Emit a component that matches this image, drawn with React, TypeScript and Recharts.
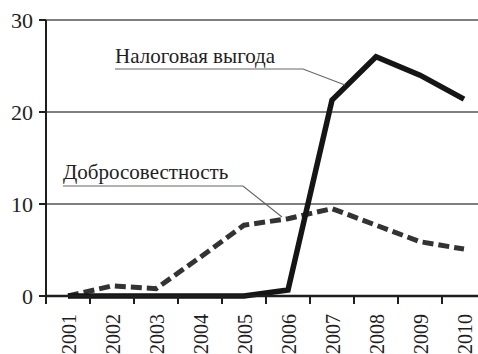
import { CartesianGrid, Line, LineChart, XAxis, YAxis } from 'recharts';

const years = ['2001', '2002', '2003', '2004', '2005', '2006', '2007', '2008', '2009', '2010'];
// Налоговая выгода
const taxBenefit = [0, 0, 0, 0, 0, 0.65, 21.3, 26.0, 24.0, 21.4];
// Добросовестность
const goodFaith = [0, 1.1, 0.8, 4.2, 7.7, 8.4, 9.5, 7.7, 5.9, 5.1];
const yTicks = [0, 10, 20, 30];

const data = years.map((year, i) => ({ year, tax: taxBenefit[i], faith: goodFaith[i] }));

const FONT = "Tinos, 'Times New Roman', Times, 'Liberation Serif', FreeSerif";
const INK = '#1e1e1e';

function YearTick(props: any) {
  const { x, y, payload } = props;
  return (
    <g>
      <line x1={x - 22} y1={y - 19} x2={x - 22} y2={y - 11} stroke={INK} strokeWidth={2} />
      <text
        x={x + 1}
        y={y - 1}
        transform={`rotate(-90, ${x + 1}, ${y - 1})`}
        textAnchor="end"
        dominantBaseline="central"
        style={{ fontFamily: FONT }}
        fontSize={20}
        fill={INK}
      >
        {payload.value}
      </text>
    </g>
  );
}

export default function App() {
  return (
    <div
      style={{
        position: 'absolute',
        left: 0,
        top: 0,
        width: 478,
        height: 354,
        overflow: 'hidden',
        background: '#fff',
      }}
    >
      <LineChart
        width={500}
        height={354}
        data={data}
        margin={{ top: 20, right: 14, bottom: 0, left: 0 }}
      >
        <CartesianGrid vertical={false} stroke="#555" strokeWidth={1.5} />
        <XAxis
          dataKey="year"
          interval={0}
          padding={{ left: 22, right: 22 }}
          height={58}
          axisLine={{ stroke: INK, strokeWidth: 2.5 }}
          tickLine={false}
          tickSize={8}
          tickMargin={11}
          tick={<YearTick />}
        />
        <YAxis
          domain={[0, 30]}
          ticks={yTicks}
          width={46}
          axisLine={{ stroke: INK, strokeWidth: 2 }}
          tickLine={{ stroke: INK, strokeWidth: 2 }}
          tickSize={7}
          tickMargin={6}
          tick={{ style: { fontFamily: FONT }, fontSize: 22, fill: INK }}
        />
        <Line
          dataKey="faith"
          stroke="#333"
          strokeWidth={5}
          strokeDasharray="11 5"
          dot={false}
          isAnimationActive={false}
        />
        <Line
          dataKey="tax"
          stroke="#151515"
          strokeWidth={5.5}
          dot={false}
          isAnimationActive={false}
        />
      </LineChart>
      <svg
        width={478}
        height={354}
        style={{ position: 'absolute', left: 0, top: 0, pointerEvents: 'none' }}
      >
        <text x={115} y={63} fontSize={21} fill={INK} style={{ fontFamily: FONT }}>
          Налоговая выгода
        </text>
        <polyline points="115,69 303,69 345,85" fill="none" stroke="#666" strokeWidth={1.2} />
        <text x={63} y={179} fontSize={21} fill={INK} style={{ fontFamily: FONT }}>
          Добросовестность
        </text>
        <polyline points="63,186 243,186 282,217" fill="none" stroke="#666" strokeWidth={1.2} />
      </svg>
    </div>
  );
}
